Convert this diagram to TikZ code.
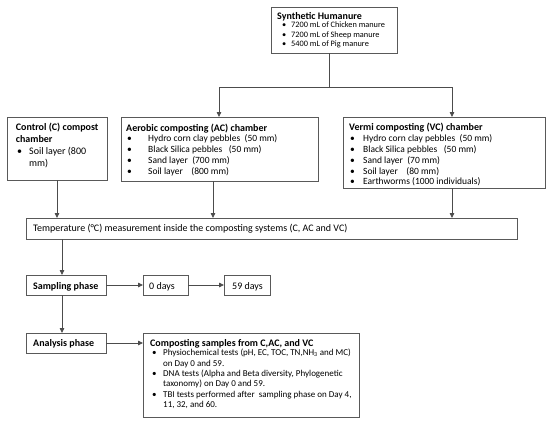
\documentclass[tikz,border=0pt]{standalone}
\usepackage{fontspec}
\setmainfont{Carlito}
\usetikzlibrary{arrows.meta,calc}
\tikzset{
  box/.style={draw=black!65, line width=0.9pt, anchor=north west, inner sep=0pt, outer sep=0pt, fill=white},
  ttl/.style={anchor=base west, inner sep=0pt, font=\fontsize{10}{12}\selectfont\bfseries},
  itm/.style={anchor=base west, inner sep=0pt, font=\fontsize{9.5}{11}\selectfont},
  arr/.style={draw=black!70, line width=0.8pt, -{Triangle[length=5pt,width=4.5pt]}},
  ln/.style={draw=black!70, line width=0.8pt},
}
\begin{document}
\begin{tikzpicture}[x=1pt,y=-1pt]
\fill[white] (0,0) rectangle (550,424);
\useasboundingbox (0,0) rectangle (550,424);
% boxes
\node[box, minimum width=126pt, minimum height=46pt] (hum) at (271,7) {};
\node[box, minimum width=100pt, minimum height=63pt] (ctrl) at (7,117) {};
\node[box, minimum width=197pt, minimum height=64pt] (ac) at (121,117) {};
\node[box, minimum width=202pt, minimum height=71pt] (vc) at (343,117) {};
\node[box, minimum width=491pt, minimum height=21pt] (temp) at (26,218) {};
\node[box, minimum width=80pt, minimum height=20pt] (smp) at (26,275) {};
\node[box, minimum width=45pt, minimum height=20pt] (d0) at (143,275) {};
\node[box, minimum width=46pt, minimum height=20pt] (d59) at (224,275) {};
\node[box, minimum width=80pt, minimum height=20pt] (ana) at (26,333) {};
\node[box, minimum width=216pt, minimum height=84pt] (cmp) at (143,333) {};
% Synthetic Humanure
\node[ttl] (humT) at (277,19.5) {Synthetic Humanure};
\foreach \t [count=\i] in {{7200 mL of Chicken manure},{7200 mL of Sheep manure},{5400 mL of Pig manure}}
  \node[itm, font=\fontsize{8.3}{9}\selectfont] (humI\i) at (282,18+9.5*\i) {\makebox[9pt][l]{\textbullet}\t};
% Control
\node[ttl] (ctrlT1) at (15.7,130) {Control (C) compost};
\node[ttl] (ctrlT2) at (15.7,142) {chamber};
\node[itm, font=\fontsize{10}{12}\selectfont] (ctrlI1) at (17,154.5) {\makebox[12pt][l]{\textbullet}Soil layer (800};
\node[itm, font=\fontsize{10}{12}\selectfont] (ctrlI2) at (29,166.5) {mm)};
% Aerobic
\node[ttl] (acT) at (126,131) {Aerobic composting (AC) chamber};
\foreach \t [count=\i] in {{Hydro corn clay pebbles\ \ (50 mm)},{Black Silica pebbles\ \ \ (50 mm)},{Sand layer\ \ (700 mm)},{Soil layer\ \ \ \ (800 mm)}}
  \node[itm] (acI\i) at (127,130.5+11*\i) {\makebox[21pt][l]{\textbullet}\t};
% Vermi
\node[ttl] (vcT) at (349,130) {Vermi composting (VC) chamber};
\foreach \t [count=\i] in {{Hydro corn clay pebbles\ \ (50 mm)},{Black Silica pebbles\ \ \ (50 mm)},{Sand layer\ \ (70 mm)},{Soil layer\ \ \ \ (80 mm)},{Earthworms (1000 individuals)}}
  \node[itm] (vcI\i) at (350,131.2+10.7*\i) {\makebox[13pt][l]{\textbullet}\t};
% Temperature
\node[itm, font=\fontsize{10}{12}\selectfont] (tempT) at (33,231.5) {Temperature (°C) measurement inside the composting systems (C, AC and VC)};
% Sampling
\node[ttl] (smpT) at (33,289) {Sampling phase};
\node[itm, font=\fontsize{10}{12}\selectfont] (d0T) at (149,289) {0 days};
\node[itm, font=\fontsize{10}{12}\selectfont] (d59T) at (232,289) {59 days};
% Analysis
\node[ttl] (anaT) at (33,346.5) {Analysis phase};
\node[ttl] (cmpT) at (150,346.5) {Composting samples from C,AC, and VC};
\foreach \t [count=\i] in {{\makebox[11pt][l]{\textbullet}Physiochemical tests (pH, EC, TOC, TN,NH\textsubscript{3} and MC)},
  {\hspace*{11pt}on Day 0 and 59.},
  {\makebox[11pt][l]{\textbullet}DNA tests (Alpha and Beta diversity, Phylogenetic},
  {\hspace*{11pt}taxonomy) on Day 0 and 59.},
  {\makebox[11pt][l]{\textbullet}TBI tests performed after\ \ sampling phase on Day 4,},
  {\hspace*{11pt}11, 32, and 60.}}
  \node[itm, font=\fontsize{9}{10}\selectfont] (cmpI\i) at (152,345.3+10.4*\i) {\t};
% connectors
\coordinate (j) at (329,87);
\coordinate (jl) at (219,87);
\coordinate (jr) at (452,87);
\coordinate (acx) at (213,0);
\coordinate (lx) at (62,0);
\draw[ln] (j |- hum.south) -- (j);
\draw[arr] (j) -- (jl) -- (jl |- ac.north);
\draw[arr] (j) -- (jr) -- (jr |- vc.north);
\draw[arr] (ctrl.south) -- (ctrl.south |- temp.north);
\draw[arr] (acx |- ac.south) -- (acx |- temp.north);
\draw[arr] (jr |- vc.south) -- (jr |- temp.north);
\draw[arr] (lx |- temp.south) -- (lx |- smp.north);
\draw[arr] (lx |- smp.south) -- (lx |- ana.north);
\draw[arr] (smp.east) -- (d0.west);
\draw[arr] (d0.east) -- (d59.west);
\draw[arr] (ana.east) -- (ana.east -| cmp.west);
\end{tikzpicture}
\end{document}
